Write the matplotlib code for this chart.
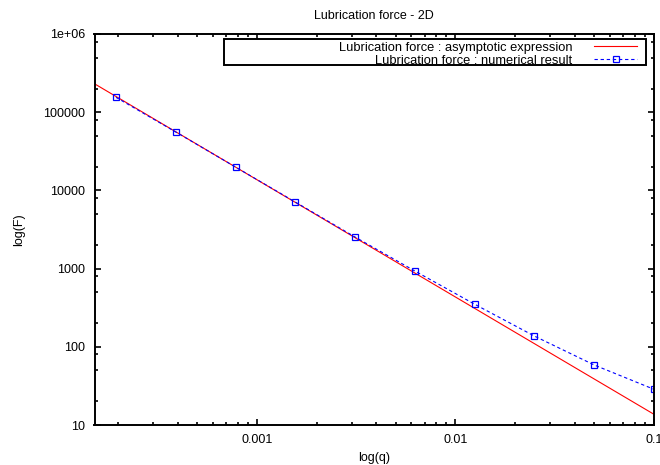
import matplotlib
matplotlib.use("Agg")
from matplotlib import pyplot as plt
from matplotlib.patches import Rectangle
from matplotlib.ticker import LogLocator, FixedLocator, FixedFormatter, NullFormatter

# numerical result (q halves each step)
q_values = [0.000195, 0.00039, 0.00078, 0.00156, 0.003125, 0.00625, 0.0125, 0.025, 0.05, 0.1]
force_numerical = [155000, 55800, 19900, 7100, 2530, 930, 350, 137, 58.5, 28.6]

# asymptotic expression, straight line in log-log, read at both ends
q_asymptotic = [0.000152, 0.1]
force_asymptotic = [231000, 13.7]

x_ticks = [0.001, 0.01, 0.1]
x_tick_labels = ['0.001', '0.01', '0.1']
y_ticks = [10, 100, 1000, 10000, 100000, 1000000]
y_tick_labels = ['10', '100', '1000', '10000', '100000', '1e+06']

plt.rcParams['font.family'] = ['Liberation Sans', 'DejaVu Sans']
plt.rcParams['font.size'] = 9

fig = plt.figure(figsize=(6.6, 4.65), dpi=100)
ax = fig.add_axes([94.5 / 660, 40 / 465, (654 - 94.5) / 660, (425 - 34) / 465])

ax.plot(q_asymptotic, force_asymptotic, color='#ff0000', linewidth=0.8,
        label='Lubrication force : asymptotic expression')
ax.plot(q_values, force_numerical, color='#0000ff', linewidth=0.8, dashes=(3, 2.5),
        marker='s', markersize=4.5, markerfacecolor='none', markeredgecolor='#0000ff',
        markeredgewidth=0.9, label='Lubrication force : numerical result')

ax.set_xscale('log')
ax.set_yscale('log')
ax.set_xlim(0.000152, 0.1)
ax.set_ylim(10, 1e6)

ax.xaxis.set_major_locator(FixedLocator(x_ticks))
ax.xaxis.set_major_formatter(FixedFormatter(x_tick_labels))
ax.xaxis.set_minor_locator(LogLocator(base=10, subs=(2, 3, 4, 5, 6, 7, 8, 9)))
ax.xaxis.set_minor_formatter(NullFormatter())
ax.yaxis.set_major_locator(FixedLocator(y_ticks))
ax.yaxis.set_major_formatter(FixedFormatter(y_tick_labels))
ax.yaxis.set_minor_locator(LogLocator(base=10, subs=(2, 5, 8)))
ax.yaxis.set_minor_formatter(NullFormatter())

ax.tick_params(which='both', direction='in', top=True, right=True, width=1.2)
ax.tick_params(which='major', length=4.5, pad=6.5)
ax.tick_params(which='minor', length=2.2)
for spine in ax.spines.values():
    spine.set_linewidth(1.4)

ax.set_xlabel('log(q)', labelpad=4)
ax.set_ylabel('log(F)', labelpad=13)
ax.set_title('Lubrication force - 2D', fontsize=9, pad=11)

# gnuplot style key: text right aligned, sample on the right, boxed
leg = ax.legend(loc='upper right', bbox_to_anchor=(637 / 660, 1 - 41.5 / 465),
                bbox_transform=fig.transFigure, frameon=False, markerfirst=False,
                fontsize=9.3, handlelength=3.3, handletextpad=1.7, labelspacing=0.1,
                borderpad=0, borderaxespad=0, numpoints=1)
key_box = Rectangle((224 / 660, 1 - 65 / 465), (646 - 224) / 660, 26 / 465,
                    transform=fig.transFigure, facecolor='white', edgecolor='black',
                    linewidth=1.4, zorder=4, clip_on=False)
ax.add_patch(key_box)

plt.savefig('out.png', dpi=100)
